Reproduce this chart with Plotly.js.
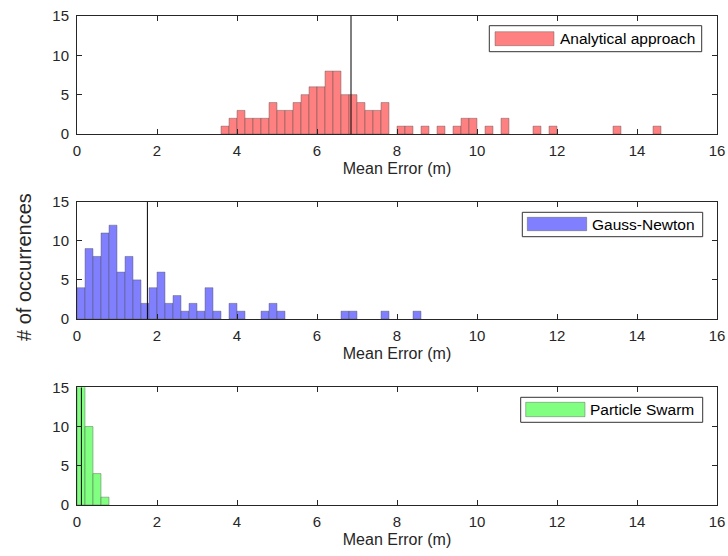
<!DOCTYPE html>
<html>
<head>
<meta charset="utf-8">
<script src="https://cdn.plot.ly/plotly-3.0.1.min.js"></script>
<style>
html,body{margin:0;padding:0;background:#fff;}
#chart{width:728px;height:556px;}
</style>
</head>
<body>
<div id="chart"></div>
<script>
// ---- data (bin centers, bin width 0.2 m) ----
const binWidth = 0.2;

const analyticalBins = [3.7,3.9,4.1,4.3,4.5,4.7,4.9,5.1,5.3,5.5,5.7,5.9,6.1,6.3,6.5,6.7,6.9,7.1,7.3,7.5,7.7,8.1,8.3,8.7,9.1,9.5,9.7,9.9,10.3,10.7,11.5,11.9,13.5,14.5];
const analyticalCounts = [1,2,3,2,2,2,4,3,3,4,5,6,6,8,8,5,5,4,3,3,4,1,1,1,1,1,2,2,1,2,1,1,1,1];
const analyticalMean = 6.85;

const gaussBins = [0.1,0.3,0.5,0.7,0.9,1.1,1.3,1.5,1.7,1.9,2.1,2.3,2.5,2.7,2.9,3.1,3.3,3.5,3.9,4.1,4.7,4.9,5.1,6.7,6.9,7.7,8.5];
const gaussCounts = [4,9,8,11,12,6,8,5,2,4,6,2,3,1,2,1,4,1,2,1,1,2,1,1,1,1,1];
const gaussMean = 1.76;

const psoBins = [0.1,0.3,0.5,0.7];
const psoCounts = [85,10,4,1];
const psoMean = 0.11;

const seriesNames = ["Analytical approach","Gauss-Newton","Particle Swarm"];
const seriesColors = ["#FF8080","#8080FF","#80FF80"];
const xTicks = [0,2,4,6,8,10,12,14,16];
const yTicks = [0,5,10,15];
const xTitle = "Mean Error (m)";
const yTitle = "# of occurrences";

// ---- traces ----
const binsList = [analyticalBins, gaussBins, psoBins];
const countsList = [analyticalCounts, gaussCounts, psoCounts];
const means = [analyticalMean, gaussMean, psoMean];
const axSuffix = ["", "2", "3"];

const traces = [];
for (let i = 0; i < 3; i++) {
  traces.push({
    type: "bar",
    x: binsList[i],
    y: countsList[i],
    width: binWidth,
    name: seriesNames[i],
    xaxis: "x" + axSuffix[i],
    yaxis: "y" + axSuffix[i],
    marker: {color: seriesColors[i], line: {color: "rgba(70,70,70,0.55)", width: 0.7}},
    showlegend: false,
    hoverinfo: "x+y"
  });
  traces.push({
    type: "scatter",
    mode: "lines",
    x: [means[i], means[i]],
    y: [0, 15],
    xaxis: "x" + axSuffix[i],
    yaxis: "y" + axSuffix[i],
    line: {color: "#000000", width: 1},
    showlegend: false,
    hoverinfo: "skip"
  });
}

// ---- layout ----
const W = 728, H = 556;
const mL = 77, mR = 11, mT = 16, mB = 51;
const plotH = H - mT - mB;
const plotW = W - mL - mR;
function py(pix) { return (H - mB - pix) / plotH; }   // pixel y -> paper y
function px(pix) { return (pix - mL) / plotW; }       // pixel x -> paper x

const domains = [[py(134), py(16)], [py(319), py(201.7)], [0, py(387.3)]];
const axisColor = "#262626";
const FF = "Liberation Sans, Arial, sans-serif";
const tickFont = {family: FF, size: 15, color: axisColor};

const layout = {
  width: W, height: H,
  margin: {l: mL, r: mR, t: mT, b: mB},
  paper_bgcolor: "#ffffff",
  plot_bgcolor: "#ffffff",
  bargap: 0,
  font: {family: FF, color: axisColor},
  shapes: [],
  annotations: []
};

for (let i = 0; i < 3; i++) {
  const xa = "xaxis" + axSuffix[i], ya = "yaxis" + axSuffix[i];
  layout[xa] = {
    domain: [0, 1],
    anchor: "y" + axSuffix[i],
    range: [0, 16],
    tickvals: xTicks,
    ticktext: xTicks.map(String),
    ticks: "inside", ticklen: 5, tickwidth: 1, tickcolor: axisColor,
    showline: true, linecolor: axisColor, linewidth: 1, mirror: "ticks",
    showgrid: false, zeroline: false,
    tickfont: tickFont,
    ticklabelstandoff: 3,
    title: {text: xTitle, font: {family: FF, size: 16, color: axisColor}, standoff: 4},
    fixedrange: true
  };
  layout[ya] = {
    domain: domains[i],
    anchor: "x" + axSuffix[i],
    range: [0, 15],
    tickvals: yTicks,
    ticktext: yTicks.map(String),
    ticks: "inside", ticklen: 5, tickwidth: 1, tickcolor: axisColor,
    showline: true, linecolor: axisColor, linewidth: 1, mirror: "ticks",
    showgrid: false, zeroline: false,
    tickfont: tickFont,
    ticklabelstandoff: 4,
    fixedrange: true
  };
}

// custom legends (box, wide swatch, label) per panel, pixel geometry from reference
const legendBoxes = [
  {x0: 489.3, x1: 701.7, y0: 25.7, y1: 51.7, sx0: 495, sx1: 554, sy0: 31.7, sy1: 45.7, tx: 558},
  {x0: 522.3, x1: 702.7, y0: 212.3, y1: 236.7, sx0: 527.3, sx1: 586.7, sy0: 217.3, sy1: 230.7, tx: 590},
  {x0: 520.7, x1: 702.7, y0: 397.3, y1: 422.3, sx0: 525.7, sx1: 585, sy0: 402.3, sy1: 416.7, tx: 588}
];
legendBoxes.forEach((b, i) => {
  layout.shapes.push({type: "rect", xref: "paper", yref: "paper",
    x0: px(b.x0), x1: px(b.x1), y0: py(b.y1), y1: py(b.y0),
    line: {color: "#333333", width: 1}, fillcolor: "#ffffff", layer: "above"});
  layout.shapes.push({type: "rect", xref: "paper", yref: "paper",
    x0: px(b.sx0), x1: px(b.sx1), y0: py(b.sy1), y1: py(b.sy0),
    line: {color: "rgba(70,70,70,0.55)", width: 0.7}, fillcolor: seriesColors[i], layer: "above"});
  layout.annotations.push({xref: "paper", yref: "paper",
    x: px(b.tx), y: py((b.y0 + b.y1) / 2), xanchor: "left", yanchor: "middle",
    text: seriesNames[i], showarrow: false,
    font: {family: FF, size: 15.5, color: "#000000"}});
});

// shared y title
layout.annotations.push({xref: "paper", yref: "paper",
  x: px(24), y: py(267), xanchor: "center", yanchor: "middle",
  text: yTitle, textangle: -90, showarrow: false,
  font: {family: FF, size: 20, color: axisColor}});

Plotly.newPlot("chart", traces, layout, {displayModeBar: false, staticPlot: true});
</script>
</body>
</html>
